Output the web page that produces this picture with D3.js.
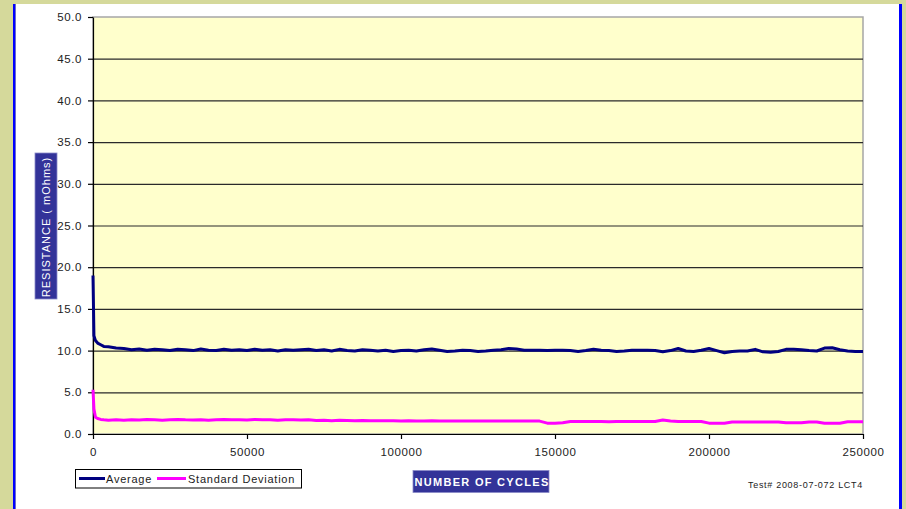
<!DOCTYPE html>
<html>
<head>
<meta charset="utf-8">
<script src="https://cdn.jsdelivr.net/npm/d3@7"></script>
<style>
  html, body { margin: 0; padding: 0; background: #d5d99b; }
  svg { display: block; font-family: "Liberation Sans", Arial, sans-serif; }
</style>
</head>
<body>
<svg id="chart" width="906" height="509"></svg>
<script>
// Cycle counts at which resistance was sampled
const cycles = [0, 300, 800, 1500, 2500, 3500, 5000,
  7500, 10000, 12500, 15000, 17500, 20000, 22500, 25000, 27500, 30000,
  32500, 35000, 37500, 40000, 42500, 45000, 47500, 50000, 52500, 55000,
  57500, 60000, 62500, 65000, 67500, 70000, 72500, 75000, 77500, 80000,
  82500, 85000, 87500, 90000, 92500, 95000, 97500, 100000, 102500, 105000,
  107500, 110000, 112500, 115000, 117500, 120000, 122500, 125000, 127500, 130000,
  132500, 135000, 137500, 140000, 142500, 145000, 147500, 150000, 152500, 155000,
  157500, 160000, 162500, 165000, 167500, 170000, 172500, 175000, 177500, 180000,
  182500, 185000, 187500, 190000, 192500, 195000, 197500, 200000, 202500, 205000,
  207500, 210000, 212500, 215000, 217500, 220000, 222500, 225000, 227500, 230000,
  232500, 235000, 237500, 240000, 242500, 245000, 247500, 250000];

// Average contact resistance (mOhms)
const average = [19.0, 11.8, 11.2, 10.9, 10.7, 10.5, 10.45,
  10.3, 10.25, 10.1, 10.2, 10.05, 10.15, 10.1, 10.0, 10.15, 10.1,
  10.0, 10.2, 10.05, 10.0, 10.15, 10.05, 10.1, 10.0, 10.15, 10.05,
  10.1, 9.95, 10.1, 10.05, 10.1, 10.15, 10.0, 10.1, 9.95, 10.15,
  10.0, 9.95, 10.1, 10.05, 9.95, 10.05, 9.9, 10.0, 10.05, 9.95,
  10.1, 10.2, 10.05, 9.9, 9.95, 10.05, 10.0, 9.9, 9.95, 10.05,
  10.1, 10.25, 10.2, 10.05, 10.05, 10.05, 10.0, 10.05, 10.05, 10.0,
  9.9, 10.0, 10.15, 10.05, 10.0, 9.9, 9.95, 10.05, 10.05, 10.05,
  10.0, 9.85, 10.0, 10.25, 9.95, 9.9, 10.05, 10.25, 10.0, 9.75,
  9.9, 9.95, 9.95, 10.15, 9.85, 9.8, 9.9, 10.15, 10.15, 10.1,
  10.0, 9.95, 10.3, 10.35, 10.1, 9.95, 9.9, 9.9];

// Standard deviation of resistance (mOhms)
const stdDev = [5.3, 3.0, 2.0, 1.85, 1.75, 1.7, 1.65,
  1.7, 1.65, 1.72, 1.68, 1.75, 1.7, 1.65, 1.72, 1.75, 1.7,
  1.68, 1.72, 1.65, 1.7, 1.75, 1.72, 1.7, 1.68, 1.75, 1.72,
  1.7, 1.65, 1.7, 1.72, 1.68, 1.7, 1.62, 1.65, 1.6, 1.65,
  1.62, 1.6, 1.62, 1.58, 1.6, 1.58, 1.6, 1.55, 1.58, 1.55,
  1.55, 1.58, 1.55, 1.55, 1.55, 1.55, 1.55, 1.55, 1.55, 1.55,
  1.55, 1.55, 1.55, 1.55, 1.55, 1.55, 1.3, 1.3, 1.35, 1.5,
  1.5, 1.5, 1.5, 1.5, 1.48, 1.5, 1.5, 1.5, 1.5, 1.5,
  1.5, 1.68, 1.55, 1.5, 1.5, 1.5, 1.5, 1.3, 1.3, 1.3,
  1.45, 1.45, 1.45, 1.45, 1.45, 1.45, 1.45, 1.35, 1.35, 1.35,
  1.45, 1.45, 1.3, 1.3, 1.3, 1.48, 1.48, 1.48];

const yTicks = [0, 5, 10, 15, 20, 25, 30, 35, 40, 45, 50];
const xTicks = [0, 50000, 100000, 150000, 200000, 250000];

const svg = d3.select("#chart");

// Page frame: white sheet with blue side rules
svg.append("rect").attr("x", 0).attr("y", 0).attr("width", 906).attr("height", 509).attr("fill", "#d5d99b");
svg.append("rect").attr("x", 16).attr("y", 4).attr("width", 883).attr("height", 505).attr("fill", "#ffffff");
svg.append("rect").attr("x", 13).attr("y", 4).attr("width", 2.5).attr("height", 505).attr("fill", "#0000ff");
svg.append("rect").attr("x", 899).attr("y", 4).attr("width", 3).attr("height", 505).attr("fill", "#0000ff");

const x = d3.scaleLinear().domain([0, 250000]).range([93, 863]);
const y = d3.scaleLinear().domain([0, 50]).range([434, 17]);

// Plot area
svg.append("rect")
  .attr("x", x(0)).attr("y", y(50))
  .attr("width", x(250000) - x(0)).attr("height", y(0) - y(50))
  .attr("fill", "#ffffcc").attr("stroke", "#a6a6a6").attr("stroke-width", 1.5);

// Horizontal gridlines
svg.append("g").selectAll("line")
  .data(yTicks.filter(d => d > 0 && d < 50))
  .join("line")
  .attr("x1", x(0)).attr("x2", x(250000))
  .attr("y1", d => y(d) + 0.5).attr("y2", d => y(d) + 0.5)
  .attr("stroke", "#2a2a2a").attr("stroke-width", 1.2);

// Axes
const yAxis = svg.append("g")
  .attr("transform", `translate(${x(0)},0)`)
  .call(d3.axisLeft(y).tickValues(yTicks).tickFormat(d => d.toFixed(1)).tickSize(5).tickPadding(6).tickSizeOuter(0));
const xAxis = svg.append("g")
  .attr("transform", `translate(0,${y(0)})`)
  .call(d3.axisBottom(x).tickValues(xTicks).tickFormat(d3.format("d")).tickSize(5).tickPadding(9).tickSizeOuter(0));

[yAxis, xAxis].forEach(g => {
  g.select(".domain").attr("stroke", "#000").attr("stroke-width", 1.2);
  g.selectAll(".tick line").attr("stroke", "#000").attr("stroke-width", 1.2);
  g.selectAll(".tick text").attr("fill", "#222").attr("font-size", 11.5).attr("letter-spacing", "0.6px")
    .attr("font-family", "'Liberation Sans', Arial, sans-serif");
});

// Series lines
const line = () => d3.line()
  .x((d, i) => x(cycles[i]))
  .y(d => y(d));

svg.append("path").datum(stdDev)
  .attr("d", line()).attr("fill", "none")
  .attr("stroke", "#ff00ff").attr("stroke-width", 3).attr("stroke-linejoin", "round");
svg.append("path").datum(average)
  .attr("d", line()).attr("fill", "none")
  .attr("stroke", "#000080").attr("stroke-width", 3).attr("stroke-linejoin", "round");

// Y axis title box
const yTitle = svg.append("g");
yTitle.append("rect").attr("x", 35).attr("y", 153).attr("width", 22).attr("height", 146)
  .attr("fill", "#333399").attr("stroke", "#8a8ac8").attr("stroke-width", 0.8);
yTitle.append("text")
  .attr("transform", "translate(50,227) rotate(-90)")
  .attr("text-anchor", "middle")
  .attr("fill", "#ffffff").attr("font-size", 11).attr("letter-spacing", "1px")
  .text("RESISTANCE ( mOhms)");

// X axis title box
const xTitle = svg.append("g");
xTitle.append("rect").attr("x", 413).attr("y", 470.5).attr("width", 136).attr("height", 22)
  .attr("fill", "#333399").attr("stroke", "#8a8ac8").attr("stroke-width", 0.8);
xTitle.append("text")
  .attr("x", 482).attr("y", 485.5)
  .attr("text-anchor", "middle")
  .attr("fill", "#ffffff").attr("font-size", 11).attr("font-weight", "bold").attr("letter-spacing", "1.3px")
  .text("NUMBER OF CYCLES");

// Legend
const legend = svg.append("g");
legend.append("rect").attr("x", 75.5).attr("y", 469.5).attr("width", 226).attr("height", 18.5)
  .attr("fill", "#ffffff").attr("stroke", "#000").attr("stroke-width", 1);
const legendItems = [
  { name: "Average", color: "#000080", x1: 79, x2: 105, tx: 106 },
  { name: "Standard Deviation", color: "#ff00ff", x1: 157, x2: 186, tx: 188 }
];
legendItems.forEach(it => {
  legend.append("line").attr("x1", it.x1).attr("x2", it.x2).attr("y1", 478.5).attr("y2", 478.5)
    .attr("stroke", it.color).attr("stroke-width", 3);
  legend.append("text").attr("x", it.tx).attr("y", 482.5)
    .attr("fill", "#222").attr("font-size", 11).attr("letter-spacing", "0.75px")
    .text(it.name);
});

// Test reference note
svg.append("text").attr("x", 748).attr("y", 487.5)
  .attr("fill", "#222").attr("font-size", 9).attr("letter-spacing", "0.7px")
  .text("Test# 2008-07-072 LCT4");
</script>
</body>
</html>
